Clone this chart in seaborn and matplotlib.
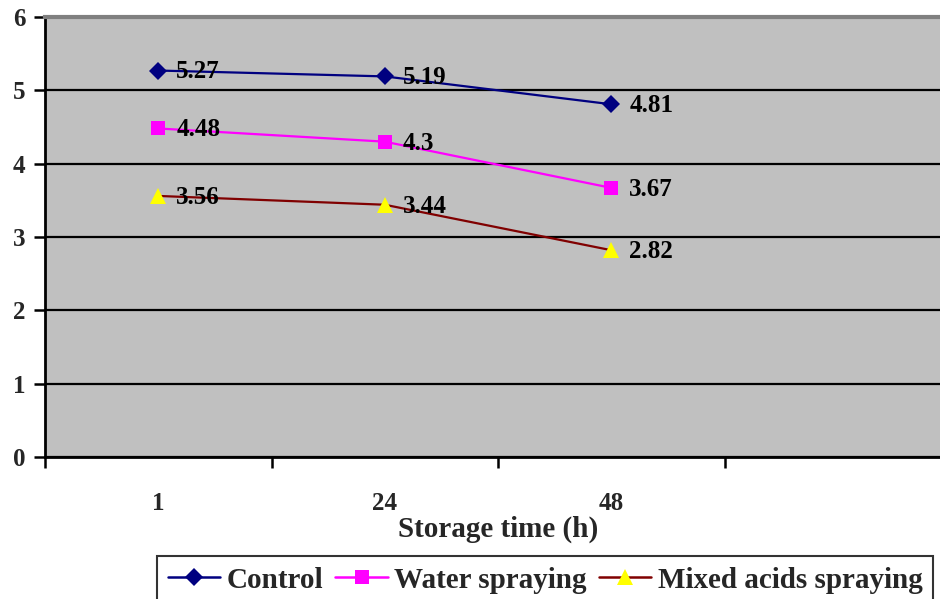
import matplotlib
matplotlib.use("Agg")
import matplotlib.pyplot as plt
import pandas as pd
import seaborn as sns
from matplotlib.lines import Line2D

# Storage time categories and measured values per treatment
storage_time = ["1", "24", "48"]
control = [5.27, 5.19, 4.81]
water_spraying = [4.48, 4.30, 3.67]
mixed_acids_spraying = [3.56, 3.44, 2.82]
series_names = ["Control", "Water spraying", "Mixed acids spraying"]

line_colors = ["#000080", "#FF00FF", "#800000"]
marker_colors = ["#000080", "#FF00FF", "#FFFF00"]
marker_shapes = ["D", "s", "^"]
marker_sizes = [9, 10, 11]

sns.set_theme(style="white")
plt.rcParams["font.family"] = ["Liberation Serif", "DejaVu Serif"]
plt.rcParams["font.weight"] = "bold"

# long-form table for seaborn
rows = []
for name, vals in zip(series_names, [control, water_spraying, mixed_acids_spraying]):
    for i, (t, v) in enumerate(zip(storage_time, vals)):
        rows.append({"pos": i, "time": t, "value": v, "series": name})
df = pd.DataFrame(rows)

fig = plt.figure(figsize=(9.4, 5.99), dpi=100)
ax = fig.add_axes([45 / 940, 1 - 457 / 599, 906 / 940, 440 / 599])
ax.set_facecolor("#C0C0C0")

for name, lc, mc, mk, ms in zip(series_names, line_colors, marker_colors,
                                marker_shapes, marker_sizes):
    sub = df[df["series"] == name]
    sns.lineplot(data=sub, x="pos", y="value", ax=ax, color=lc, lw=1.6,
                 marker=mk, markersize=ms, markerfacecolor=mc,
                 markeredgecolor=mc, markeredgewidth=0, legend=False,
                 zorder=3)
    for _, r in sub.iterrows():
        ax.annotate(f"{r['value']:g}", (r["pos"], r["value"]),
                    xytext=(13, -1), textcoords="offset points",
                    ha="left", va="center", fontsize=18, fontweight="bold",
                    color="black", zorder=4)

ax.set_xlim(-0.5, 3.5)
ax.set_ylim(0, 6)

# category boundaries as tick marks, labels centred in each category
ax.set_xticks([-0.5, 0.5, 1.5, 2.5, 3.5])
ax.set_xticklabels([])
ax.set_xticks(range(len(storage_time)), minor=True)
ax.set_xticklabels(storage_time, minor=True)
ax.tick_params(axis="x", which="major", direction="out", length=8, width=1.8,
               color="black", bottom=True)
ax.tick_params(axis="x", which="minor", length=0, pad=25, labelsize=18)

ax.set_yticks(range(0, 7))
ax.tick_params(axis="y", direction="out", length=8, width=1.8, color="black",
               left=True, pad=6, labelsize=18)
for lab in ax.get_xticklabels(minor=True) + ax.get_yticklabels():
    lab.set_fontweight("bold")

ax.set_axisbelow(True)
ax.yaxis.grid(True, color="black", lw=1.6)
ax.xaxis.grid(False)

ax.spines["left"].set_color("black")
ax.spines["left"].set_linewidth(2)
ax.spines["bottom"].set_color("black")
ax.spines["bottom"].set_linewidth(2)
ax.spines["top"].set_color("#808080")
ax.spines["top"].set_linewidth(3)
ax.spines["right"].set_visible(False)

ax.set_xlabel("Storage time (h)", fontsize=21, fontweight="bold", labelpad=1)
ax.set_ylabel("")

handles = [
    Line2D([0], [0], color=lc, lw=1.8, marker=mk, markersize=ms,
           markerfacecolor=mc, markeredgecolor=mc, markeredgewidth=0)
    for lc, mc, mk, ms in zip(line_colors, marker_colors, marker_shapes, marker_sizes)
]
leg = fig.legend(handles, series_names, loc="upper left",
                 bbox_to_anchor=(157 / 940, 1 - 556 / 599), ncol=3,
                 frameon=True, fancybox=False, edgecolor="black",
                 prop={"size": 21, "weight": "bold"}, handlelength=1.8,
                 handletextpad=0.22, columnspacing=0.42, borderpad=0.36,
                 borderaxespad=0)
leg.get_frame().set_linewidth(1.5)

fig.savefig("out.png", dpi=100)
